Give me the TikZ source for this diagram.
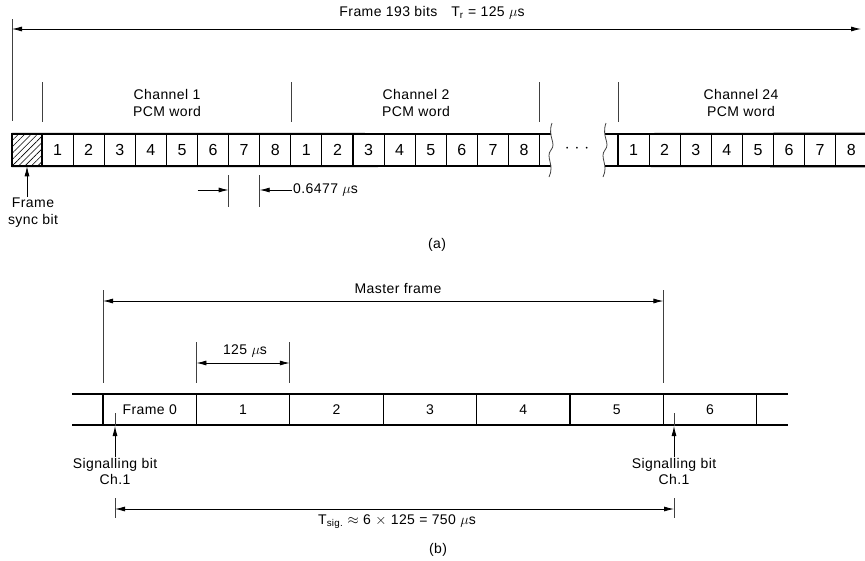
\documentclass[tikz,border=0pt]{standalone}
\usepackage{fontspec}
\setmainfont{Liberation Sans}[LetterSpace=3]
\usepackage{tikz}
\usetikzlibrary{arrows.meta, positioning, patterns.meta}

\begin{document}
\begin{tikzpicture}[x=1pt, y=-1pt, font=\fontsize{14}{16.5}\selectfont,
  bitcell/.style={draw, line width=1.1pt, minimum width=31.1pt, minimum height=32pt, inner sep=0pt, font=\fontsize{16}{18}\selectfont},
  framecell/.style={draw, line width=1.1pt, minimum width=93.4pt, minimum height=31pt, inner sep=0pt},
  dimline/.style={line width=0.8pt, {Latex[length=10pt, width=5pt]}-{Latex[length=10pt, width=5pt]}},
  pointer/.style={line width=0.8pt, -{Latex[length=10pt, width=5pt]}},
  tick/.style={line width=0.8pt, black!75},
  rowedge/.style={line width=1.8pt}]
\useasboundingbox (0,0) rectangle (865,560);

% (a) frame of 193 bits
\node (frameTitle) at (432.00, 13.00) {Frame 193 bits\quad T\textsubscript{r} = 125 $\mu$s};
\coordinate (frameLt) at (12.00, 19.00);
\coordinate (frameLb) at (12.00, 121.00);
\coordinate (frameA) at (12.00, 29.00);
\coordinate (frameB) at (861.00, 29.00);
\draw[tick] (frameLt) -- (frameLb);
\draw[dimline] (frameA) -- (frameB);

\node[bitcell, minimum width=30pt, pattern={Lines[angle=45, distance=4.5pt, line width=0.6pt]}] (sync) at (27.00, 150.00) {};
\node[bitcell] (c1b1) at (57.55, 150.00) {1};
\node[bitcell] (c1b2) at (88.65, 150.00) {2};
\node[bitcell] (c1b3) at (119.75, 150.00) {3};
\node[bitcell] (c1b4) at (150.85, 150.00) {4};
\node[bitcell] (c1b5) at (181.95, 150.00) {5};
\node[bitcell] (c1b6) at (213.05, 150.00) {6};
\node[bitcell] (c1b7) at (244.15, 150.00) {7};
\node[bitcell] (c1b8) at (275.25, 150.00) {8};
\node[bitcell] (c2b1) at (306.35, 150.00) {1};
\node[bitcell] (c2b2) at (337.45, 150.00) {2};
\node[bitcell] (c2b3) at (368.55, 150.00) {3};
\node[bitcell] (c2b4) at (399.65, 150.00) {4};
\node[bitcell] (c2b5) at (430.75, 150.00) {5};
\node[bitcell] (c2b6) at (461.85, 150.00) {6};
\node[bitcell] (c2b7) at (492.95, 150.00) {7};
\node[bitcell] (c2b8) at (524.05, 150.00) {8};
\node[font=\fontsize{18}{20}\selectfont] (gapDots) at (577.00, 149.00) {$\cdot$\hspace{5pt}$\cdot$\hspace{5pt}$\cdot$};
\node[bitcell] (c24b1) at (633.55, 150.00) {1};
\node[bitcell] (c24b2) at (664.65, 150.00) {2};
\node[bitcell] (c24b3) at (695.75, 150.00) {3};
\node[bitcell] (c24b4) at (726.85, 150.00) {4};
\node[bitcell] (c24b5) at (757.95, 150.00) {5};
\node[bitcell] (c24b6) at (789.05, 150.00) {6};
\node[bitcell] (c24b7) at (820.15, 150.00) {7};
\node[bitcell] (c24b8) at (851.25, 150.00) {8};

\coordinate (gapLt) at (551.00, 134.00);
\coordinate (gapLb) at (551.00, 166.00);
\coordinate (gapRt) at (605.00, 134.00);
\coordinate (gapRb) at (605.00, 166.00);
\draw[rowedge] (sync.north west) -- (gapLt);
\draw[rowedge] (sync.south west) -- (gapLb);
\draw[rowedge] (gapRt) -- (c24b8.north east);
\draw[rowedge] (gapRb) -- (c24b8.south east);
\draw[tick] (552.00, 123.00) .. controls (547.00, 137.00) and (557.00, 143.00) .. (551.00, 150.00)
  .. controls (545.00, 157.00) and (555.00, 165.00) .. (549.00, 177.00);
\draw[tick] (606.00, 123.00) .. controls (601.00, 137.00) and (611.00, 143.00) .. (605.00, 150.00)
  .. controls (599.00, 157.00) and (609.00, 165.00) .. (603.00, 177.00);

% channel words
\coordinate (ch1t) at (42.00, 82.00);
\coordinate (ch1b) at (42.00, 122.00);
\coordinate (ch2t) at (291.10, 82.00);
\coordinate (ch2b) at (291.10, 122.00);
\coordinate (ch3t) at (539.60, 82.00);
\coordinate (ch3b) at (539.60, 122.00);
\coordinate (ch24t) at (618.00, 82.00);
\coordinate (ch24b) at (618.00, 122.00);
\draw[tick] (ch1t) -- (ch1b);
\draw[tick] (ch2t) -- (ch2b);
\draw[tick] (ch3t) -- (ch3b);
\draw[tick] (ch24t) -- (ch24b);
\node[align=center] (ch1lbl) at (167.00, 103.00) {Channel 1\\PCM word};
\node[align=center] (ch2lbl) at (416.00, 103.00) {Channel 2\\PCM word};
\node[align=center] (ch24lbl) at (741.00, 103.00) {Channel 24\\PCM word};

% frame sync bit and bit width
\node[align=center, anchor=north, inner sep=1pt] (syncLbl) at (33.00, 197.00) {Frame\\sync bit};
\draw[pointer] (syncLbl.north -| sync.south) -- (sync.south);
\coordinate (bwLt) at (228.60, 175.00);
\coordinate (bwLb) at (228.60, 207.00);
\coordinate (bwRt) at (259.70, 175.00);
\coordinate (bwRb) at (259.70, 207.00);
\coordinate (bwA) at (197.50, 190.00);
\draw[tick] (bwLt) -- (bwLb);
\draw[tick] (bwRt) -- (bwRb);
\draw[pointer] (bwA) -- (bwA -| bwLt);
\node[anchor=west, inner sep=1pt] (bwLbl) at (292.00, 190.00) {0.6477 $\mu$s};
\draw[pointer] (bwLbl.west) -- (bwLbl.west -| bwRt);
\node (lblA) at (437.00, 245.00) {(a)};

% (b) master frame
\node[framecell] (f0) at (149.70, 409.50) {Frame 0};
\node[framecell] (f1) at (243.10, 409.50) {1};
\node[framecell] (f2) at (336.50, 409.50) {2};
\node[framecell] (f3) at (429.90, 409.50) {3};
\node[framecell] (f4) at (523.30, 409.50) {4};
\node[framecell] (f5) at (616.70, 409.50) {5};
\node[framecell] (f6) at (710.10, 409.50) {6};
\coordinate (rowBl) at (72.00, 394.00);
\coordinate (rowBlb) at (72.00, 425.00);
\coordinate (rowBr) at (788.00, 394.00);
\coordinate (rowBrb) at (788.00, 425.00);
\draw[rowedge] (rowBl) -- (rowBr);
\draw[rowedge] (rowBlb) -- (rowBrb);

\node (mfLbl) at (398.00, 288.00) {Master frame};
\coordinate (mfLt) at (103.00, 290.00);
\coordinate (mfLb) at (103.00, 383.00);
\coordinate (mfRt) at (663.40, 290.00);
\coordinate (mfRb) at (663.40, 383.00);
\coordinate (mfA) at (103.00, 301.00);
\coordinate (mfB) at (663.40, 301.00);
\draw[tick] (mfLt) -- (mfLb);
\draw[tick] (mfRt) -- (mfRb);
\draw[dimline] (mfA) -- (mfB);

\node (frLbl) at (245.00, 351.00) {125 $\mu$s};
\coordinate (frLt) at (196.40, 342.00);
\coordinate (frLb) at (196.40, 383.00);
\coordinate (frRt) at (289.80, 342.00);
\coordinate (frRb) at (289.80, 383.00);
\coordinate (frA) at (196.40, 363.00);
\coordinate (frB) at (289.80, 363.00);
\draw[tick] (frLt) -- (frLb);
\draw[tick] (frRt) -- (frRb);
\draw[dimline] (frA) -- (frB);

% signalling bits
\node[align=center, anchor=north, inner sep=1pt] (sigL) at (115.00, 457.00) {Signalling bit\\Ch.1};
\node[align=center, anchor=north, inner sep=1pt] (sigR) at (674.00, 457.00) {Signalling bit\\Ch.1};
\coordinate (sigLtip) at (115.00, 426.00);
\coordinate (sigLend) at (115.00, 413.00);
\coordinate (sigRtip) at (674.00, 426.00);
\coordinate (sigRend) at (674.00, 413.00);
\draw[pointer] (sigL.north) -- (sigLtip);
\draw[tick] (sigLtip) -- (sigLend);
\draw[pointer] (sigR.north) -- (sigRtip);
\draw[tick] (sigRtip) -- (sigRend);

\coordinate (tsLt) at (115.00, 498.00);
\coordinate (tsLb) at (115.00, 518.00);
\coordinate (tsRt) at (674.00, 498.00);
\coordinate (tsRb) at (674.00, 518.00);
\coordinate (tsA) at (115.00, 509.00);
\coordinate (tsB) at (674.00, 509.00);
\draw[tick] (tsLt) -- (tsLb);
\draw[tick] (tsRt) -- (tsRb);
\draw[dimline] (tsA) -- (tsB);
\node (tsLbl) at (397.00, 522.00) {T\textsubscript{sig.} $\approx$ 6 $\times$ 125 = 750 $\mu$s};
\node (lblB) at (438.00, 550.00) {(b)};
\end{tikzpicture}
\end{document}
